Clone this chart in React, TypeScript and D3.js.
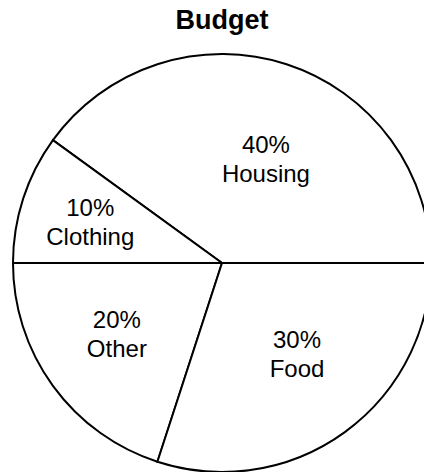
import React from "react";
import * as d3 from "d3";

const categories = ["Housing", "Clothing", "Other", "Food"];
const values = [40, 10, 20, 30];
const title = "Budget";

const W = 424;
const H = 472;
const cx = 222;
const cy = 263;
const R = 209;

// label placement tweaks (angle offset in radians, distance from center)
const labelTweak: Record<string, { da: number; dist: number }> = {
  Housing: { da: 0.085, dist: 113 },
  Clothing: { da: -0.012, dist: 138 },
  Other: { da: 0.033, dist: 127 },
  Food: { da: -0.061, dist: 118 },
};

export default function App() {
  const data = categories.map((c, i) => ({ name: c, value: values[i] }));
  const pie = d3
    .pie<{ name: string; value: number }>()
    .sort(null)
    .value((d) => d.value)
    .startAngle(Math.PI / 2)
    .endAngle(Math.PI / 2 - 2 * Math.PI);
  const arcs = pie(data);
  const arc = d3
    .arc<d3.PieArcDatum<{ name: string; value: number }>>()
    .innerRadius(0)
    .outerRadius(R);
  const total = d3.sum(values);

  return (
    <svg
      width={W}
      height={H}
      style={{ position: "absolute", left: 0, top: 0, background: "#fff" }}
      fontFamily="'Liberation Sans', Arial, sans-serif"
    >
      <text x={cx} y={29} textAnchor="middle" fontSize={27} fontWeight="bold" fill="#000">
        {title}
      </text>
      <g transform={`translate(${cx},${cy})`}>
        {arcs.map((a) => (
          <path key={a.data.name} d={arc(a) || ""} fill="#fff" stroke="#000" strokeWidth={2} />
        ))}
        {arcs.map((a) => {
          const t = labelTweak[a.data.name];
          const mid = (a.startAngle + a.endAngle) / 2 + t.da;
          const x = Math.sin(mid) * t.dist;
          const y = -Math.cos(mid) * t.dist;
          const pct = Math.round((a.data.value / total) * 100) + "%";
          return (
            <text key={a.data.name} x={x} y={y - 6} textAnchor="middle" fontSize={24} fill="#000">
              <tspan x={x}>{pct}</tspan>
              <tspan x={x} dy={29}>{a.data.name}</tspan>
            </text>
          );
        })}
      </g>
    </svg>
  );
}
